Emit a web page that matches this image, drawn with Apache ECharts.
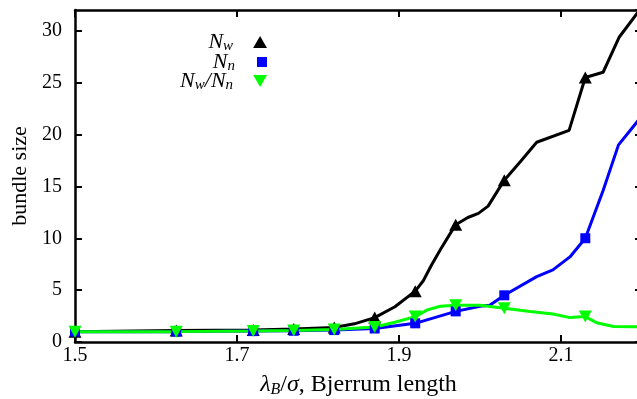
<!DOCTYPE html>
<html>
<head>
<meta charset="utf-8">
<script src="https://cdn.jsdelivr.net/npm/echarts@6/dist/echarts.min.js"></script>
<style>
  html, body { margin: 0; padding: 0; background: #fff; }
  #chart { width: 637px; height: 399px; }
</style>
</head>
<body>
<div id="chart"></div>
<script>
// x positions that carry a marker (shared by all three curves)
const markX = [1.5, 1.625, 1.72, 1.77, 1.82, 1.87, 1.92, 1.97, 2.03, 2.13]

// N_w
const nwX = [1.5, 1.625, 1.72, 1.77, 1.82, 1.845, 1.87, 1.895, 1.92, 1.93, 1.94, 1.951, 1.962, 1.97, 1.985, 1.998, 2.01, 2.03, 2.05, 2.07, 2.11, 2.13, 2.152, 2.172, 2.2]
const nwY = [1.0, 1.1, 1.15, 1.25, 1.4, 1.75, 2.35, 3.4, 4.9, 5.9, 7.4, 8.9, 10.3, 11.3, 12.0, 12.4, 13.1, 15.6, 17.4, 19.25, 20.4, 25.5, 26.0, 29.4, 32.3]

// N_n
const nnX = [1.5, 1.625, 1.72, 1.77, 1.82, 1.87, 1.92, 1.97, 2.0, 2.012, 2.03, 2.07, 2.09, 2.111, 2.13, 2.152, 2.171, 2.2]
const nnY = [1.0, 1.0, 1.05, 1.08, 1.15, 1.3, 1.8, 2.95, 3.45, 3.55, 4.5, 6.3, 6.95, 8.2, 10.0, 14.6, 19.0, 21.8]

// N_w / N_n
const rX = [1.5, 1.625, 1.72, 1.77, 1.82, 1.87, 1.895, 1.92, 1.935, 1.951, 1.97, 2.0, 2.03, 2.062, 2.09, 2.111, 2.13, 2.144, 2.165, 2.2]
const rY = [1.0, 1.0, 1.05, 1.1, 1.2, 1.45, 1.9, 2.45, 3.1, 3.45, 3.55, 3.55, 3.25, 2.95, 2.7, 2.35, 2.45, 1.85, 1.5, 1.45]

const SERIF = 'Liberation Serif'
const UP = 'path://M1,0L2,1.732L0,1.732Z'
const DOWN = 'path://M0,0L2,0L1,1.732Z'
const SQ = 'path://M0,0L1,0L1,1L0,1Z'

const LABELS = {
  Nw: '{i|N}{s|w}',
  Nn: '{i|N}{s|n}',
  ratio: '{i|N}{s|w}{i|/N}{s|n}',
}

const rich = {
  i: { fontFamily: SERIF, fontStyle: 'italic', fontSize: 22, lineHeight: 24, color: '#000' },
  s: { fontFamily: SERIF, fontStyle: 'italic', fontSize: 15, lineHeight: 15, verticalAlign: 'bottom', color: '#000' },
  r: { fontFamily: SERIF, fontSize: 22, lineHeight: 24, color: '#000' },
}

// bigger variant for the x axis title
const richTitle = {
  i: { ...rich.i, fontSize: 24, lineHeight: 26 },
  s: { ...rich.s, fontSize: 16, lineHeight: 16 },
  r: { ...rich.r, fontSize: 24, lineHeight: 26 },
}

function pts(xs, ys) {
  return xs.map((x, i) => ({
    value: [x, ys[i]],
    symbol: markX.includes(x) ? undefined : 'none',
  }))
}

function legend(name, icon, h, rowY) {
  return {
    data: [{ name, icon }],
    orient: 'vertical',
    align: 'right',
    right: 370,
    top: rowY - 12,
    padding: 0,
    itemWidth: 44,
    itemHeight: h,
    symbolKeepAspect: true,
    selectedMode: false,
    formatter: (n) => LABELS[n],
    textStyle: { rich },
  }
}

const axisLine = { onZero: false, lineStyle: { color: '#000', width: 2.5 } }
const tick = { inside: true, length: 7, lineStyle: { color: '#000', width: 2 } }

const chart = echarts.init(document.getElementById('chart'), null, { renderer: 'canvas' })
chart.setOption({
  animation: false,
  grid: { left: 75, top: 10, width: 567, height: 332, outerBoundsMode: 'none' },
  legend: [
    legend('Nw', UP, 12, 43),
    legend('Nn', SQ, 10, 63),
    legend('ratio', DOWN, 12, 82),
  ],
  xAxis: [
    {
      type: 'value', min: 1.5, max: 2.2, interval: 0.2, position: 'bottom',
      axisLine, axisTick: tick, splitLine: { show: false },
      axisLabel: {
        margin: 4, color: '#000', fontFamily: SERIF, fontSize: 20,
        showMaxLabel: false, formatter: (v) => v.toFixed(1),
      },
      name: '{i|λ}{s|B}{r|/}{i|σ}{r|, Bjerrum length}',
      nameLocation: 'middle', nameGap: 30,
      nameTextStyle: { rich: richTitle },
    },
    {
      type: 'value', min: 1.5, max: 2.2, interval: 0.2, position: 'top',
      axisLine, axisTick: tick, splitLine: { show: false }, axisLabel: { show: false },
    },
  ],
  yAxis: [
    {
      type: 'value', min: 0, max: 32, interval: 5, position: 'left',
      axisLine, axisTick: tick, splitLine: { show: false },
      axisLabel: { margin: 13, color: '#000', fontFamily: SERIF, fontSize: 20, showMaxLabel: false },
      name: 'bundle size', nameLocation: 'middle', nameGap: 42,
      nameTextStyle: { color: '#000', fontFamily: SERIF, fontSize: 22 },
    },
    {
      type: 'value', min: 0, max: 32, interval: 5, position: 'right',
      axisLine, axisTick: tick, splitLine: { show: false }, axisLabel: { show: false },
    },
  ],
  series: [
    {
      name: 'Nw', type: 'line', data: pts(nwX, nwY),
      symbol: 'triangle', symbolSize: [13, 12],
      lineStyle: { color: '#000', width: 3 }, itemStyle: { color: '#000' },
    },
    {
      name: 'Nn', type: 'line', data: pts(nnX, nnY),
      symbol: 'rect', symbolSize: 10,
      lineStyle: { color: '#0000ff', width: 3 }, itemStyle: { color: '#0000ff' },
    },
    {
      name: 'ratio', type: 'line', data: pts(rX, rY),
      symbol: 'triangle', symbolRotate: 180, symbolSize: [13, 12],
      lineStyle: { color: '#00ff00', width: 3 }, itemStyle: { color: '#00ff00' },
    },
  ],
})
</script>
</body>
</html>
